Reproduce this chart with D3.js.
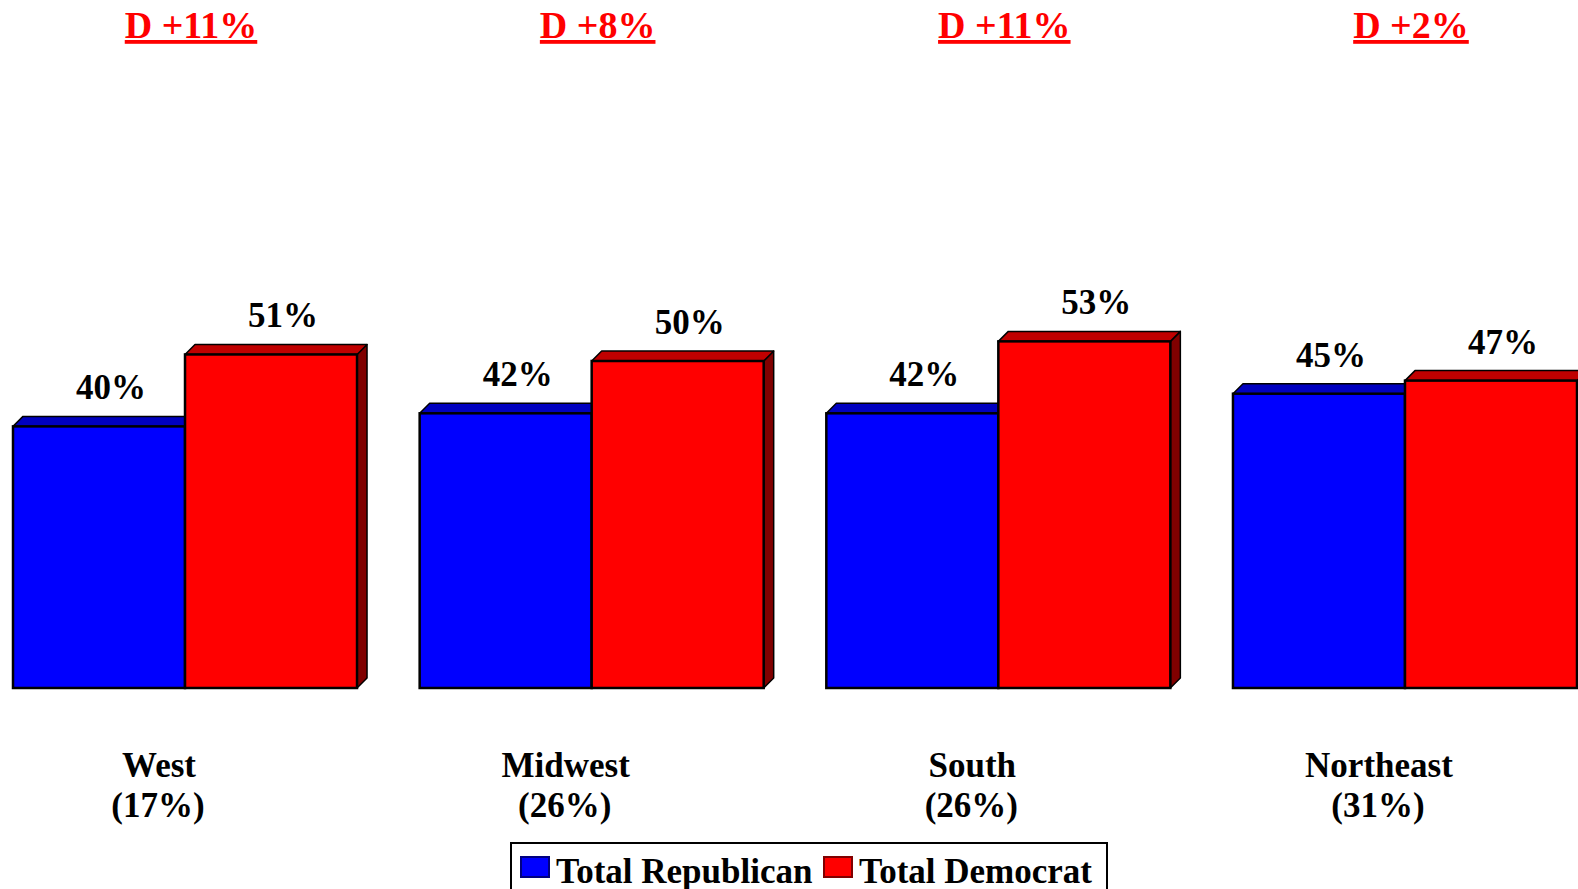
<!DOCTYPE html>
<html>
<head>
<meta charset="utf-8">
<script src="https://cdn.jsdelivr.net/npm/d3@7"></script>
<style>
  body { margin: 0; background: #fff; }
  svg { display: block; font-family: "Liberation Serif", "Times New Roman", serif; font-weight: bold; }
</style>
</head>
<body>
<svg id="chart"></svg>
<script>
var regions = ["West", "Midwest", "South", "Northeast"];
var shares = ["(17%)", "(26%)", "(26%)", "(31%)"];
var republican = [40, 42, 42, 45];
var democrat = [51, 50, 53, 47];
var margins = ["D +11%", "D +8%", "D +11%", "D +2%"];
var seriesNames = ["Total Republican", "Total Democrat"];

var svgWidth = 1578, svgHeight = 889;
var depth = 10;

var colors = {
    rep: { front: "#0000ff", top: "#0000c0", side: "#000080" },
    dem: { front: "#ff0000", top: "#c00000", side: "#800000" }
};

var svg = d3.select("#chart")
    .attr("width", svgWidth)
    .attr("height", svgHeight);

var x0 = d3.scaleBand()
    .domain(regions)
    .range([13, 1577])
    .paddingInner(0.154)
    .paddingOuter(0);

var x1 = d3.scaleBand()
    .domain(["rep", "dem"])
    .range([0, x0.bandwidth()]);

var y = d3.scaleLinear()
    .domain([0, 100])
    .range([688, 34]);

var data = regions.map(function(r, i) {
    return { region: r, share: shares[i], margin: margins[i],
             values: [{ key: "rep", value: republican[i] }, { key: "dem", value: democrat[i] }] };
});

function topFace(x, yy, w) {
    return [[x, yy], [x + depth, yy - depth], [x + w + depth, yy - depth], [x + w, yy]];
}
function sideFace(x, yy, w) {
    var b = y(0);
    return [[x + w, yy], [x + w + depth, yy - depth], [x + w + depth, b - depth], [x + w, b]];
}

var groups = svg.selectAll("g.region")
    .data(data)
    .enter().append("g")
    .attr("class", "region")
    .attr("transform", function(d) { return "translate(" + x0(d.region) + ",0)"; });

groups.each(function(d) {
    var g = d3.select(this);
    d.values.forEach(function(v) {
        var bx = x1(v.key), w = x1.bandwidth(), top = y(v.value);
        var c = colors[v.key];
        g.append("polygon")
            .attr("points", sideFace(bx, top, w).join(" "))
            .attr("fill", c.side)
            .attr("stroke", "#000")
            .attr("stroke-width", 1.5)
            .attr("stroke-linejoin", "round");
        g.append("polygon")
            .attr("points", topFace(bx, top, w).join(" "))
            .attr("fill", c.top)
            .attr("stroke", "#000")
            .attr("stroke-width", 1.5)
            .attr("stroke-linejoin", "round");
        g.append("rect")
            .attr("x", bx)
            .attr("y", top)
            .attr("width", w)
            .attr("height", y(0) - top)
            .attr("fill", c.front)
            .attr("stroke", "#000")
            .attr("stroke-width", 2.5);
        g.append("text")
            .attr("x", bx + w / 2 + depth / 2 + 7)
            .attr("y", top - 27)
            .attr("text-anchor", "middle")
            .attr("font-size", "35px")
            .attr("fill", "#000")
            .text(v.value + "%");
    });

    var cx = x0.bandwidth() / 2;
    g.append("text")
        .attr("x", cx - 26)
        .attr("y", 777)
        .attr("text-anchor", "middle")
        .attr("font-size", "35px")
        .text(d.region);
    g.append("text")
        .attr("x", cx - 27)
        .attr("y", 817)
        .attr("text-anchor", "middle")
        .attr("font-size", "35px")
        .text(d.share);
    g.append("text")
        .attr("x", cx + 6)
        .attr("y", 38)
        .attr("text-anchor", "middle")
        .attr("font-size", "38px")
        .attr("fill", "#ff0000")
        .attr("text-decoration", "underline")
        .text(d.margin);
});

// legend
var legend = svg.append("g").attr("transform", "translate(511,843)");
legend.append("rect")
    .attr("x", 0).attr("y", 0)
    .attr("width", 596).attr("height", 60)
    .attr("fill", "#fff")
    .attr("stroke", "#000")
    .attr("stroke-width", 2);

var legendX = [10, 313];
seriesNames.forEach(function(name, i) {
    var c = i === 0 ? colors.rep : colors.dem;
    legend.append("rect")
        .attr("x", legendX[i]).attr("y", 14)
        .attr("width", 28).attr("height", 20)
        .attr("fill", c.front)
        .attr("stroke", c.side)
        .attr("stroke-width", 2);
    legend.append("text")
        .attr("x", legendX[i] + 35)
        .attr("y", 40)
        .attr("font-size", "35px")
        .text(name);
});
</script>
</body>
</html>
